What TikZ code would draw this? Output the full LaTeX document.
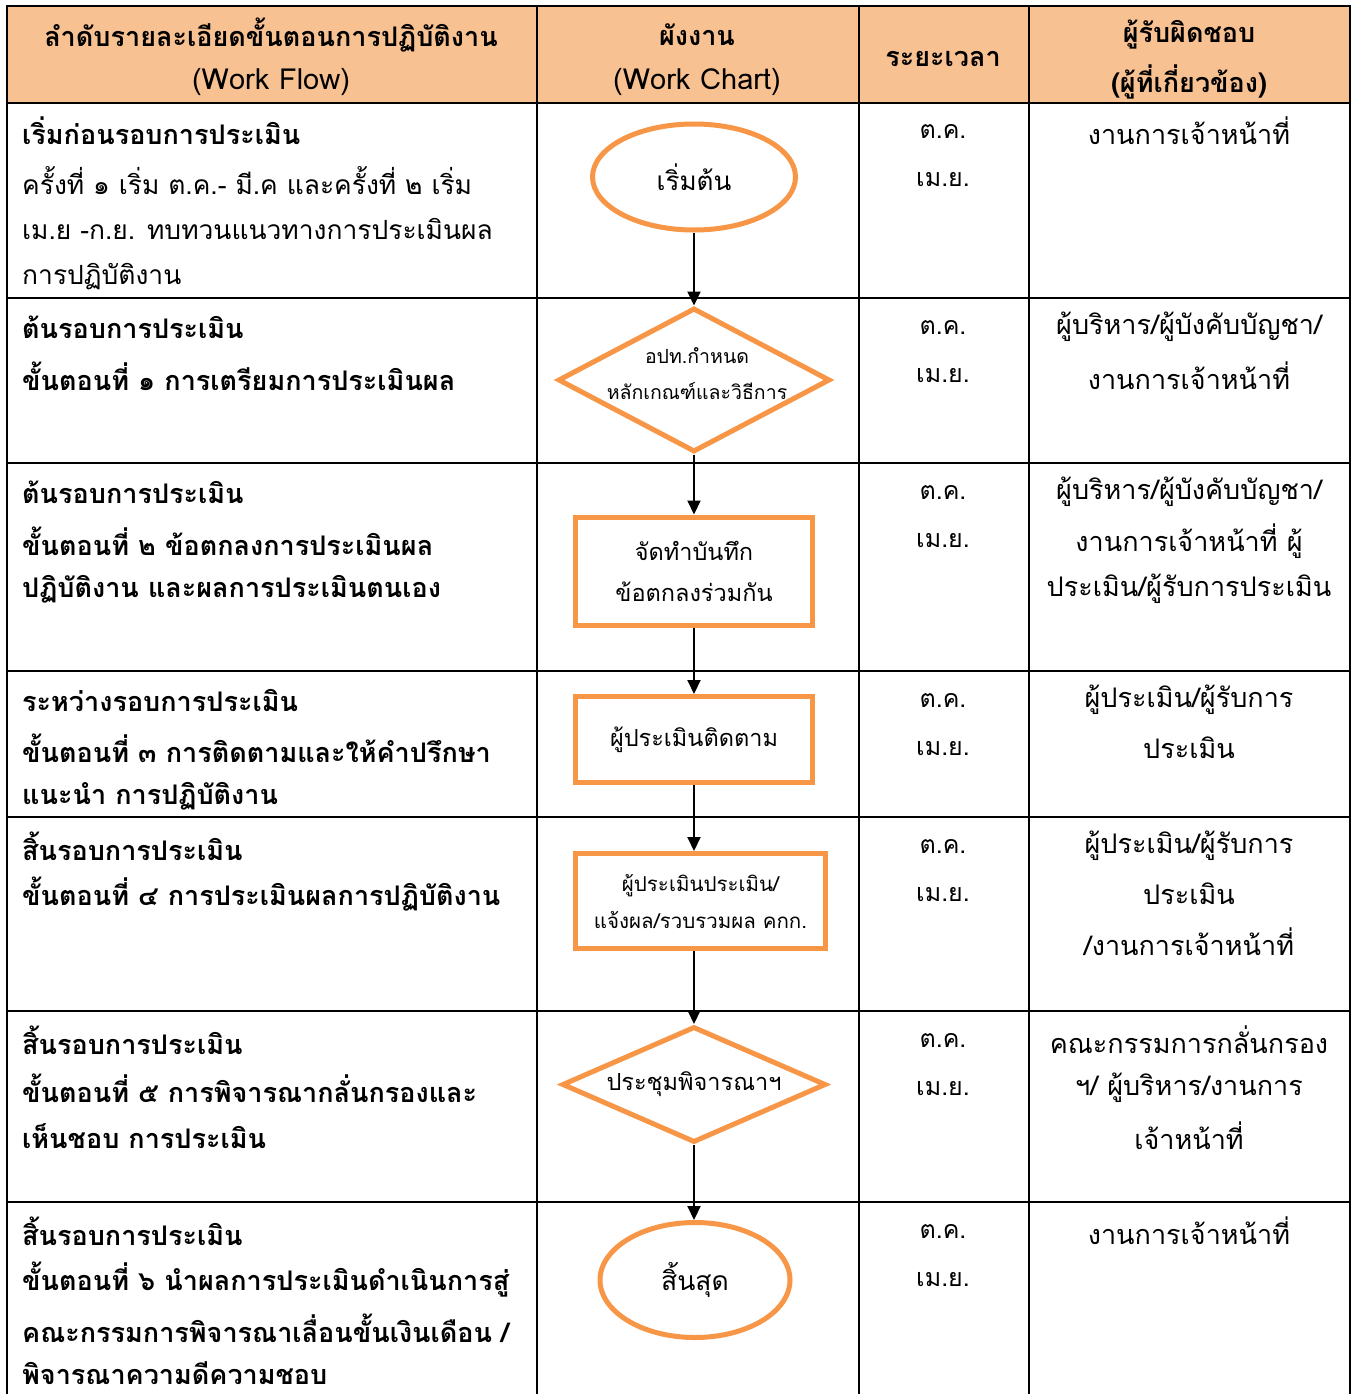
\documentclass[tikz,border=0pt]{standalone}
\usepackage{fontspec}
\usetikzlibrary{shapes.geometric,arrows.meta}
\newfontfamily\thai[Script=Thai]{Loma}
\definecolor{hdr}{HTML}{F8C192}
\definecolor{org}{HTML}{F79646}
\tikzset{
  grid/.style={line width=2.4pt, draw=black},
  lt/.style={font=\thai\fontsize{27}{30}\selectfont\bfseries, anchor=west, inner sep=0},
  ltr/.style={font=\thai\fontsize{26.4}{30}\selectfont, anchor=west, inner sep=0},
  ct/.style={font=\thai\fontsize{27}{30}\selectfont, inner sep=0},
  tm/.style={font=\thai\fontsize{25}{28}\selectfont, inner sep=0},
  hd/.style={font=\thai\fontsize{27}{30}\selectfont\bfseries, inner sep=0},
  hdl/.style={font=\thai\fontsize{29}{30}\selectfont, inner sep=0},
  shp/.style={draw=org, line width=5pt, inner sep=0, fill=white},
  small/.style={font=\thai\fontsize{19.5}{36}\selectfont, align=center, inner sep=0},
  mid/.style={font=\thai\fontsize{23.5}{41}\selectfont, align=center, inner sep=0},
  arr/.style={line width=2pt, -{Triangle[length=14pt,width=13pt]}},
}
\begin{document}
\begin{tikzpicture}[x=1pt,y=-1pt]
\useasboundingbox (0,0) rectangle (1355,1394);
% header
\fill[hdr] (7,6) rectangle (1350,103);
% grid
\draw[grid] (7,1394) -- (7,6) -- (1350,6) -- (1350,1394);
\foreach \x in {537,859,1029} \draw[grid] (\x,6) -- (\x,1394);
\foreach \y in {103,298,463,671,817,1011,1202} \draw[grid] (7,\y) -- (1350,\y);
% header text
\node[hd] (h1a) at (271,35) {ลำดับรายละเอียดขั้นตอนการปฏิบัติงาน};
\node[hdl] (h1b) at (271,82) {(Work Flow)};
\node[hd] (h2a) at (697,35) {ผังงาน};
\node[hdl] (h2b) at (697,82) {(Work Chart)};
\node[hd] (h3) at (943,59) {ระยะเวลา};
\node[hd] (h4a) at (1189,35) {ผู้รับผิดชอบ};
\node[hd] (h4b) at (1189,82) {(ผู้ที่เกี่ยวข้อง)};
% left column
\node[lt] (l1a) at (22,131) {เริ่มก่อนรอบการประเมิน};
\node[ltr] (l1b) at (22,181) {ครั้งที่ ๑ เริ่ม ต.ค.- มี.ค และครั้งที่ ๒ เริ่ม};
\node[ltr] (l1c) at (22,229) {เม.ย -ก.ย. ทบทวนแนวทางการประเมินผล};
\node[ltr] (l1d) at (22,277) {การปฏิบัติงาน};
\node[lt] (l2a) at (22,327) {ต้นรอบการประเมิน};
\node[lt] (l2b) at (22,376) {ขั้นตอนที่ ๑ การเตรียมการประเมินผล};
\node[lt] (l3a) at (22,492) {ต้นรอบการประเมิน};
\node[lt] (l3b) at (22,541) {ขั้นตอนที่ ๒ ข้อตกลงการประเมินผล};
\node[lt] (l3c) at (22,589) {ปฏิบัติงาน และผลการประเมินตนเอง};
\node[lt] (l4a) at (22,700) {ระหว่างรอบการประเมิน};
\node[lt] (l4b) at (22,748) {ขั้นตอนที่ ๓ การติดตามและให้คำปรึกษา};
\node[lt] (l4c) at (22,796) {แนะนำ การปฏิบัติงาน};
\node[lt] (l5a) at (22,846) {สิ้นรอบการประเมิน};
\node[lt] (l5b) at (22,894) {ขั้นตอนที่ ๔ การประเมินผลการปฏิบัติงาน};
\node[lt] (l6a) at (22,1040) {สิ้นรอบการประเมิน};
\node[lt] (l6b) at (22,1088) {ขั้นตอนที่ ๕ การพิจารณากลั่นกรองและ};
\node[lt] (l6c) at (22,1136) {เห็นชอบ การประเมิน};
\node[lt] (l7a) at (22,1231) {สิ้นรอบการประเมิน};
\node[lt] (l7b) at (22,1280) {ขั้นตอนที่ ๖ นำผลการประเมินดำเนินการสู่};
\node[lt] (l7c) at (22,1328) {คณะกรรมการพิจารณาเลื่อนขั้นเงินเดือน /};
\node[lt] (l7d) at (22,1373) {พิจารณาความดีความชอบ};
% time column
\foreach \i/\y in {1/131,2/327,3/492,4/700,5/846,6/1040,7/1231}{
  \node[tm] (ta\i) at (943,\y) {ต.ค.};
  \node[tm] (tb\i) at (943,\y+49) {เม.ย.};
}
% responsible column
\node[ct] (r1a) at (1189,131) {งานการเจ้าหน้าที่};
\node[ct] (r2a) at (1189,327) {ผู้บริหาร/ผู้บังคับบัญชา/};
\node[ct] (r2b) at (1189,376) {งานการเจ้าหน้าที่};
\node[ct] (r3a) at (1189,492) {ผู้บริหาร/ผู้บังคับบัญชา/};
\node[ct] (r3b) at (1189,541) {งานการเจ้าหน้าที่ ผู้};
\node[ct] (r3c) at (1189,589) {ประเมิน/ผู้รับการประเมิน};
\node[ct] (r4a) at (1189,700) {ผู้ประเมิน/ผู้รับการ};
\node[ct] (r4b) at (1189,748) {ประเมิน};
\node[ct] (r5a) at (1189,846) {ผู้ประเมิน/ผู้รับการ};
\node[ct] (r5b) at (1189,894) {ประเมิน};
\node[ct] (r5c) at (1189,942) {/งานการเจ้าหน้าที่};
\node[ct] (r6a) at (1189,1040) {คณะกรรมการกลั่นกรอง};
\node[ct] (r6b) at (1189,1088) {ฯ/ ผู้บริหาร/งานการ};
\node[ct] (r6c) at (1189,1136) {เจ้าหน้าที่};
\node[ct] (r7a) at (1189,1231) {งานการเจ้าหน้าที่};
% chart
\node[shp, ellipse, minimum width=203, minimum height=106, font=\thai\fontsize{26}{28}\selectfont] (e1) at (694,177) {เริ่มต้น};
\node[shp, diamond, minimum width=272, minimum height=144] (d1) at (694,380) {};
\node[small] (d1t) at (697,374) {อปท.กำหนด\\หลักเกณฑ์และวิธีการ};
\node[shp, rectangle, minimum width=237, minimum height=108] (b1) at (694,571) {};
\node[mid] (b1t) at (b1) {จัดทำบันทึก\\ข้อตกลงร่วมกัน};
\node[shp, rectangle, minimum width=237, minimum height=86] (b2) at (694,739.5) {};
\node[mid] (b2t) at (b2) {ผู้ประเมินติดตาม};
\node[shp, rectangle, minimum width=250, minimum height=95] (b3) at (700.5,901) {};
\node[small, font=\thai\fontsize{20.5}{37}\selectfont] (b3t) at (b3) {ผู้ประเมินประเมิน/\\แจ้งผล/รวบรวมผล คกก.};
\node[shp, diamond, minimum width=264, minimum height=116] (d2) at (694,1084.5) {};
\node[mid] (d2t) at (d2) {ประชุมพิจารณาฯ};
\node[shp, ellipse, minimum width=190, minimum height=115, font=\thai\fontsize{26.5}{28}\selectfont] (e2) at (695,1280) {สิ้นสุด};
% arrows
\draw[arr] (e1.south) -- (d1.north);
\draw[arr] (d1.south) -- (b1.north);
\draw[arr] (b1.south) -- (b2.north);
\draw[arr] (b2.south) -- (b2.south |- b3.north);
\draw[arr] (b3.south -| d2.north) -- (d2.north);
\draw[arr] (d2.south) -- (d2.south |- e2.north);
\end{tikzpicture}
\end{document}
